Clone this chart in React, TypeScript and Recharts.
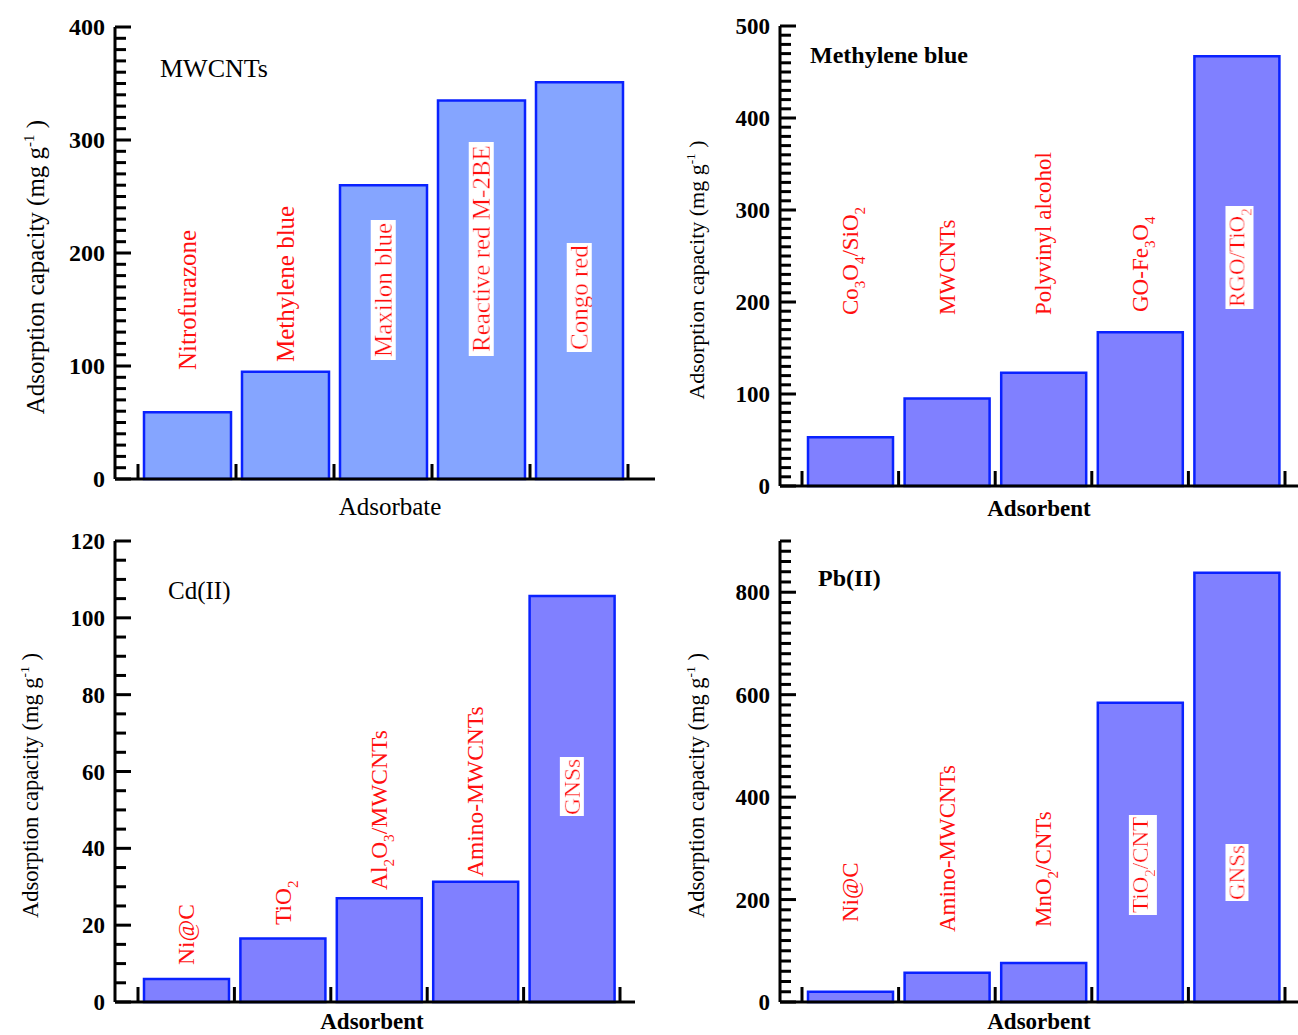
import { BarChart, Bar, XAxis, YAxis, LabelList, Label } from "recharts";

const FONT = "'Liberation Serif', 'Times New Roman', serif";

// capacities (mg/g)
const dyeNames = ["Nitrofurazone", "Methylene blue", "Maxilon blue", "Reactive red M-2BE", "Congo red"];
const dyeCapacity = [59, 95, 260, 335, 351];

const mbNames = ["Co_3O_4/SiO_2", "MWCNTs", "Polyvinyl alcohol", "GO-Fe_3O_4", "RGO/TiO_2"];
const mbCapacity = [53, 95, 123, 167, 467];

const cdNames = ["Ni@C", "TiO_2", "Al_2O_3/MWCNTs", "Amino-MWCNTs", "GNSs"];
const cdCapacity = [6, 16.5, 27, 31.3, 105.7];

const pbNames = ["Ni@C", "Amino-MWCNTs", "MnO_2/CNTs", "TiO_2/CNT", "GNSs"];
const pbCapacity = [20, 57, 76, 584, 838];

const dyeMajor = [0, 100, 200, 300, 400];
const mbMajor = [0, 100, 200, 300, 400, 500];
const cdMajor = [0, 20, 40, 60, 80, 100, 120];
const pbMajor = [0, 200, 400, 600, 800];

const boundaries = [0, 1, 2, 3, 4, 5];

function steps(max: number, step: number) {
  const out: number[] = [];
  for (let v = 0; v <= max + 1e-9; v += step) out.push(v);
  return out;
}

// split "Co_3O_4" into plain runs and subscript digits
function richText(s: string, fs: number) {
  const parts = s.split(/(_\d)/).filter(Boolean);
  const out: any[] = [];
  let shifted = false;
  parts.forEach((p, i) => {
    if (p.startsWith("_")) {
      out.push(
        <tspan key={i} dy={fs * 0.3} fontSize={fs * 0.65}>
          {p.slice(1)}
        </tspan>
      );
      shifted = true;
    } else {
      out.push(
        <tspan key={i} dy={shifted ? -fs * 0.3 : 0}>
          {p}
        </tspan>
      );
      shifted = false;
    }
  });
  return out;
}

interface PanelCfg {
  names: string[];
  values: number[];
  major: number[];
  minorStep: number;
  yMax: number;
  title: string;
  xTitle: string;
  left: number;
  top: number;
  width: number;
  height: number;
  margin: { top: number; right: number; bottom: number; left: number };
  pad: { left: number; right: number };
  barSize: number;
  fill: string;
  lifts: number[];
  labelFs: number;
  tickFs: number;
  yLabelFs: number;
  yLabelGap: number;
  bold: boolean;
  titleFs: number;
  titlePos: [number, number];
  xTitleShift: number;
  xTitleDrop: number;
}

const panels: PanelCfg[] = [
  {
    names: dyeNames, values: dyeCapacity, major: dyeMajor, minorStep: 10, yMax: 400,
    title: "MWCNTs", xTitle: "Adsorbate",
    left: 0, top: 0, width: 660, height: 540,
    margin: { top: 27, right: 5, bottom: 31, left: 55 },
    pad: { left: 23, right: 27 }, barSize: 87, fill: "#85a5ff",
    lifts: [109, 117, 122, 127, 129], labelFs: 25, tickFs: 24, yLabelFs: 25, yLabelGap: 79, bold: false,
    titleFs: 26, titlePos: [160, 77], xTitleShift: 5, xTitleDrop: 36,
  },
  {
    names: mbNames, values: mbCapacity, major: mbMajor, minorStep: 10, yMax: 500,
    title: "Methylene blue", xTitle: "Adsorbent",
    left: 680, top: 0, width: 640, height: 540,
    margin: { top: 26, right: 10, bottom: 24, left: 40 },
    pad: { left: 22, right: 25 }, barSize: 85, fill: "#8080ff",
    lifts: [171, 171, 171, 174, 179], labelFs: 23, tickFs: 23, yLabelFs: 22, yLabelGap: 83, bold: true,
    titleFs: 24, titlePos: [130, 63], xTitleShift: -6, xTitleDrop: 30,
  },
  {
    names: cdNames, values: cdCapacity, major: cdMajor, minorStep: 5, yMax: 120,
    title: "Cd(II)", xTitle: "Adsorbent",
    left: 0, top: 520, width: 660, height: 520,
    margin: { top: 21, right: 25, bottom: 8, left: 55 },
    pad: { left: 23, right: 15 }, barSize: 85, fill: "#8080ff",
    lifts: [37, 77, 112, 125, 187], labelFs: 23.5, tickFs: 23, yLabelFs: 22.5, yLabelGap: 84, bold: false,
    titleFs: 25, titlePos: [168, 79], xTitleShift: -3, xTitleDrop: 27,
  },
  {
    names: pbNames, values: pbCapacity, major: pbMajor, minorStep: 20, yMax: 900,
    title: "Pb(II)", xTitle: "Adsorbent",
    left: 680, top: 520, width: 640, height: 520,
    margin: { top: 21, right: 10, bottom: 8, left: 40 },
    pad: { left: 22, right: 25 }, barSize: 85, fill: "#8080ff",
    lifts: [80, 70, 75, 89, 102], labelFs: 23, tickFs: 23, yLabelFs: 22.5, yLabelGap: 83, bold: true,
    titleFs: 24, titlePos: [138, 66], xTitleShift: -6, xTitleDrop: 27,
  },
];

function Panel({ cfg, idx }: { cfg: PanelCfg; idx: number }) {
  const rows = cfg.names.map((name, i) => ({ name, value: cfg.values[i], slot: i + 0.5 }));
  const weight = cfg.bold ? "bold" : "normal";
  const axisStyle = { stroke: "#000", strokeWidth: 3 };

  const yTick = (p: any) => {
    const v = p.payload.value;
    const isMajor = cfg.major.includes(v);
    return (
      <g>
        <line x1={p.x} x2={p.x + (isMajor ? 16 : 11)} y1={p.y} y2={p.y} stroke="#000" strokeWidth={3} />
        {isMajor && (
          <text x={p.x - 10} y={p.y} dy="0.35em" textAnchor="end" fontFamily={FONT}
            fontSize={cfg.tickFs} fontWeight="bold" fill="#000">
            {v}
          </text>
        )}
      </g>
    );
  };

  const xTick = (p: any) => (
    <line x1={p.x} x2={p.x} y1={p.y} y2={p.y - 15} stroke="#000" strokeWidth={3} />
  );

  const barLabel = (p: any) => {
    const vb = p.viewBox && p.viewBox.width != null ? p.viewBox : p;
    const i = p.index != null ? p.index : cfg.names.indexOf(p.value);
    const lift = cfg.lifts[i];
    const cx = vb.x + vb.width / 2;
    const bottom = vb.y + vb.height;
    const boxed = vb.height > lift;
    const fs = cfg.labelFs;
    return (
      <text
        transform={`translate(${cx + fs * 0.33},${bottom - lift}) rotate(-90)`}
        fontFamily={FONT}
        fontSize={fs}
        fill="#ff1010"
        filter={boxed ? "url(#whitebg)" : undefined}
      >
        {richText(String(p.value), fs)}
      </text>
    );
  };

  const yLabel = (p: any) => {
    const vb = p.viewBox;
    const ax = vb.x + vb.width;
    const cy = vb.y + vb.height / 2 + 14;
    const fs = cfg.yLabelFs;
    return (
      <text transform={`translate(${ax - cfg.yLabelGap + fs * 0.33},${cy}) rotate(-90)`} textAnchor="middle"
        fontFamily={FONT} fontSize={fs} fill="#000">
        <tspan>Adsorption capacity (mg g</tspan>
        <tspan dy={-fs * 0.4} fontSize={fs * 0.6}>-1</tspan>
        <tspan dy={fs * 0.4}> )</tspan>
      </text>
    );
  };

  const xLabel = (p: any) => {
    const vb = p.viewBox;
    const heavy = cfg.bold || idx === 2;
    return (
      <text x={vb.x + vb.width / 2 + cfg.xTitleShift} y={vb.y + cfg.xTitleDrop} textAnchor="middle"
        fontFamily={FONT} fontSize={heavy ? 23 : 25} fontWeight={heavy ? "bold" : "normal"} fill="#000">
        {cfg.xTitle}
      </text>
    );
  };

  return (
    <div style={{ position: "absolute", left: cfg.left, top: cfg.top, width: cfg.width, height: cfg.height }}>
      <BarChart width={cfg.width} height={cfg.height} data={rows} margin={cfg.margin}>
        <XAxis
          type="number"
          dataKey="slot"
          domain={[0, 5]}
          ticks={boundaries}
          interval={0}
          padding={cfg.pad}
          height={30}
          tickSize={0}
          tickMargin={0}
          tickLine={false}
          tick={xTick}
          axisLine={axisStyle}
        >
          <Label content={xLabel} />
        </XAxis>
        <XAxis xAxisId="frameTop" orientation="top" type="number" domain={[0, 1]} height={0}
          tick={false} tickLine={false} axisLine={axisStyle} />
        <YAxis
          type="number"
          domain={[0, cfg.yMax]}
          ticks={steps(cfg.yMax, cfg.minorStep)}
          interval={0}
          width={60}
          tickSize={0}
          tickMargin={0}
          tickLine={false}
          tick={yTick}
          axisLine={axisStyle}
        >
          <Label content={yLabel} />
        </YAxis>
        <YAxis yAxisId="frameRight" orientation="right" type="number" domain={[0, 1]} width={0}
          tick={false} tickLine={false} axisLine={axisStyle} />
        <Bar dataKey="value" fill={cfg.fill} stroke="#0a22ff" strokeWidth={2.5} barSize={cfg.barSize}
          isAnimationActive={false}>
          <LabelList dataKey="name" content={barLabel} />
        </Bar>
      </BarChart>
      <svg width={cfg.width} height={cfg.height} style={{ position: "absolute", left: 0, top: 0, pointerEvents: "none" }}>
        <text x={cfg.titlePos[0]} y={cfg.titlePos[1]} fontFamily={FONT} fontSize={cfg.titleFs}
          fontWeight={weight} fill="#000">
          {cfg.title}
        </text>
      </svg>
    </div>
  );
}

export default function App() {
  return (
    <div style={{ position: "fixed", left: 0, top: 0, width: 1298, height: 1035, overflow: "hidden", background: "#fff" }}>
      <svg width={0} height={0} style={{ position: "absolute" }}>
        <defs>
          <filter id="whitebg" x="-0.015" y="0.04" width="1.03" height="0.92">
            <feFlood floodColor="#ffffff" result="bg" />
            <feMerge>
              <feMergeNode in="bg" />
              <feMergeNode in="SourceGraphic" />
            </feMerge>
          </filter>
        </defs>
      </svg>
      {panels.map((p, i) => (
        <Panel key={i} cfg={p} idx={i} />
      ))}
    </div>
  );
}
